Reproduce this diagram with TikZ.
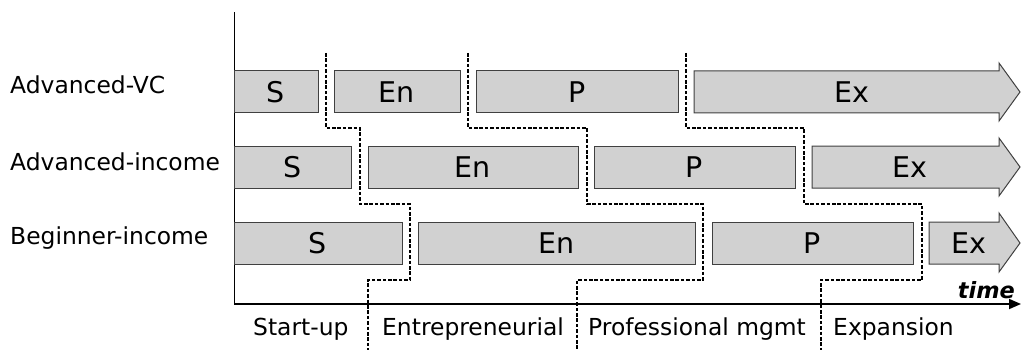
\documentclass[tikz,border=0pt]{standalone}
\usepackage{fontspec}
\setmainfont{DejaVu Sans}
\usetikzlibrary{arrows.meta}
\begin{document}
\begin{tikzpicture}[x=1pt,y=-1pt,
  phasebox/.style={draw=black!75, fill=black!18, line width=1pt, rectangle,
    inner sep=0pt, minimum height=42pt},
  arrowbox/.style={draw=black!75, fill=black!18, line width=1pt},
  phasetxt/.style={inner sep=0pt, font=\fontsize{28.5}{32}\selectfont},
  rowlabel/.style={anchor=base west, inner sep=0pt, font=\fontsize{23.4}{28}\selectfont},
  stagelabel/.style={anchor=base west, inner sep=0pt, font=\fontsize{23.4}{28}\selectfont},
  boundary/.style={line width=2pt, dash pattern=on 3.6pt off 1.8pt},
  axis/.style={line width=1pt}]
\useasboundingbox (0,0) rectangle (1022,350);

% axes
\coordinate (origin) at (234,304);
\coordinate (ytop) at (234,12);
\coordinate (xend) at (1021,304);
\draw[axis] (origin) -- (ytop);
\draw[line width=1.8pt, -{Triangle[length=12pt,width=10pt]}] (origin) -- (xend);
\node[anchor=base east, inner sep=0pt, font=\fontsize{22.4}{26}\selectfont\bfseries\itshape] (time) at (1015,298) {time};

% row labels
\node[rowlabel] (vc)  at (10,94)  {Advanced-VC};
\node[rowlabel] (ai)  at (10,170) {Advanced-income};
\node[rowlabel] (bi)  at (10,244) {Beginner-income};

% Advanced-VC row
\node[phasebox, minimum width=84pt]  (vcS)  at (276,92)   {};
\node[phasebox, minimum width=126pt] (vcEn) at (397,92)   {};
\node[phasebox, minimum width=202pt] (vcP)  at (577,92)   {};
\draw[arrowbox]
  (694,71) -- (999,71) -- (999,63) -- (1020,92) -- (999,121) -- (999,113) -- (694,113) -- cycle;
\node[phasetxt] at (vcS)  {S};
\node[phasetxt] at (vcEn) {En};
\node[phasetxt] at (vcP)  {P};
\node[phasetxt] (vcEx) at (852,92) {Ex};

% Advanced-income row
\node[phasebox, minimum width=117pt] (aiS)  at (292.5,167) {};
\node[phasebox, minimum width=210pt] (aiEn) at (473,167)   {};
\node[phasebox, minimum width=201pt] (aiP)  at (694.5,167) {};
\draw[arrowbox]
  (812,146) -- (999,146) -- (999,138) -- (1020,167) -- (999,196) -- (999,188) -- (812,188) -- cycle;
\node[phasetxt] at (aiS)  {S};
\node[phasetxt] at (aiEn) {En};
\node[phasetxt] at (aiP)  {P};
\node[phasetxt] (aiEx) at (910,167) {Ex};

% Beginner-income row
\node[phasebox, minimum width=168pt] (biS)  at (318,243)   {};
\node[phasebox, minimum width=277pt] (biEn) at (556.5,243) {};
\node[phasebox, minimum width=201pt] (biP)  at (812.5,243) {};
\draw[arrowbox]
  (929,222) -- (999,222) -- (999,213) -- (1020,243) -- (999,272) -- (999,264) -- (929,264) -- cycle;
\node[phasetxt] at (biS)  {S};
\node[phasetxt] at (biEn) {En};
\node[phasetxt] at (biP)  {P};
\node[phasetxt] (biEx) at (969,243) {Ex};

% stage boundaries
\draw[boundary] (326,53) -- (326,128) -- (360,128) -- (360,204) -- (410,204) -- (410,280) -- (368,280) -- (368,350);
\draw[boundary] (468,53) -- (468,128) -- (587,128) -- (587,204) -- (703,204) -- (703,280) -- (577,280) -- (577,350);
\draw[boundary] (686,53) -- (686,128) -- (804,128) -- (804,204) -- (922,204) -- (922,280) -- (821,280) -- (821,350);

% stage names
\node[stagelabel] (st1) at (253,335) {Start-up};
\node[stagelabel] (st2) at (382,335) {Entrepreneurial};
\node[stagelabel] (st3) at (588,335) {Professional mgmt};
\node[stagelabel] (st4) at (833,335) {Expansion};
\end{tikzpicture}
\end{document}
